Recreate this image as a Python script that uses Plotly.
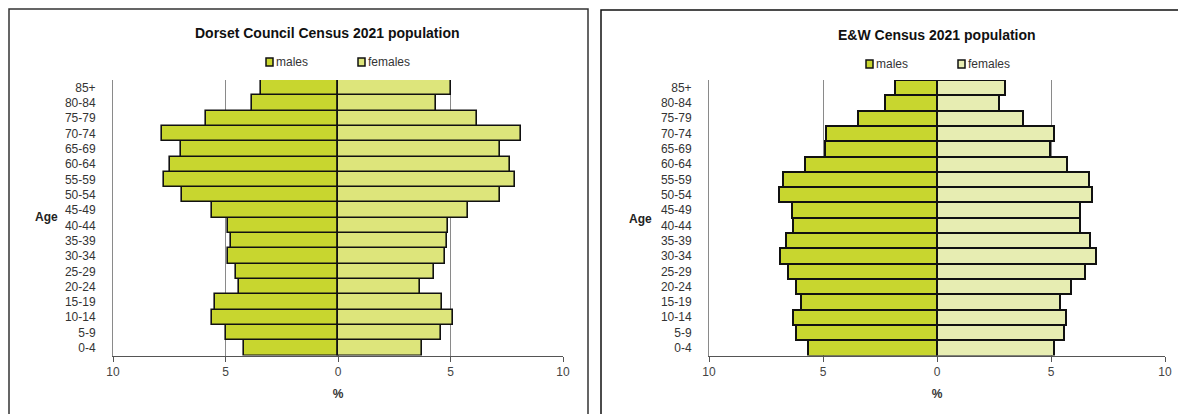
import plotly.graph_objects as go

W, H = 1186, 414
OFF = 8  # default page margin of the html body

ages = ["0-4", "5-9", "10-14", "15-19", "20-24", "25-29", "30-34", "35-39", "40-44",
        "45-49", "50-54", "55-59", "60-64", "65-69", "70-74", "75-79", "80-84", "85+"]

dorset_males = [4.18, 5.00, 5.61, 5.46, 4.40, 4.54, 4.88, 4.76, 4.91,
                5.58, 6.95, 7.75, 7.46, 6.96, 7.82, 5.85, 3.84, 3.43]
dorset_females = [3.74, 4.56, 5.10, 4.61, 3.63, 4.27, 4.74, 4.85, 4.91,
                  5.78, 7.18, 7.88, 7.65, 7.18, 8.14, 6.16, 4.37, 5.02]

ew_males = [5.66, 6.20, 6.31, 5.97, 6.18, 6.52, 6.89, 6.61, 6.31,
            6.38, 6.95, 6.77, 5.80, 4.92, 4.87, 3.48, 2.28, 1.85]
ew_females = [5.11, 5.59, 5.67, 5.38, 5.87, 6.48, 6.98, 6.69, 6.26,
              6.25, 6.80, 6.67, 5.72, 4.97, 5.11, 3.79, 2.74, 2.97]

x_tickvals = [-10, -5, 0, 5, 10]
x_ticktext = ["10", "5", "0", "5", "10"]

titles = ["Dorset Council Census 2021 population", "E&W Census 2021 population"]
series_names = ["males", "females"]

MALE_COLOR = "#C8D62F"
FEMALE_COLORS = ["#DDE57B", "#E7EDB2"]
FONT = "Liberation Sans, Arial, sans-serif"


def px(x):
    return (x - OFF) / W


def py(y):
    return 1 - (y - OFF) / H


fig = go.Figure()

panels = [
    dict(males=dorset_males, females=dorset_females, xa="x", ya="y",
         xdom=[px(113), px(563)], ydom=[py(355.5), py(80)], fem=FEMALE_COLORS[0], lw=1.6),
    dict(males=ew_males, females=ew_females, xa="x2", ya="y2",
         xdom=[px(709), px(1165)], ydom=[py(355.5), py(80)], fem=FEMALE_COLORS[1], lw=2.0),
]

for i, p in enumerate(panels):
    fig.add_trace(go.Bar(
        y=ages, x=[-v for v in p["males"]], orientation="h", name=series_names[0],
        marker=dict(color=MALE_COLOR, line=dict(color="#111", width=p["lw"])),
        xaxis=p["xa"], yaxis=p["ya"], showlegend=False,
        customdata=p["males"], hovertemplate="%{y}: %{customdata}%<extra>males</extra>"))
    fig.add_trace(go.Bar(
        y=ages, x=p["females"], orientation="h", name=series_names[1],
        marker=dict(color=p["fem"], line=dict(color="#111", width=p["lw"])),
        xaxis=p["xa"], yaxis=p["ya"], showlegend=False,
        hovertemplate="%{y}: %{x}%<extra>females</extra>"))

axis_common_x = dict(range=[-10, 10], tickvals=x_tickvals, ticktext=x_ticktext,
                     showgrid=True, gridcolor="#8a8a8a", gridwidth=1, zeroline=False,
                     showline=True, linecolor="#555", linewidth=1,
                     ticks="outside", ticklen=5, tickcolor="#555",
                     tickfont=dict(family=FONT, size=12, color="#444"),
                     title=dict(text="<b>%</b>", font=dict(family=FONT, size=12, color="#333"),
                                standoff=11),
                     automargin=False, fixedrange=True)
axis_common_y = dict(showline=True, linecolor="#8a8a8a", linewidth=1, showgrid=False,
                     ticks="", ticklabelstandoff=14, automargin=False,
                     tickfont=dict(family=FONT, size=12, color="#333"), fixedrange=True)

layout = dict(
    width=W, height=H, margin=dict(l=0, r=0, t=0, b=0, autoexpand=False),
    paper_bgcolor="white", plot_bgcolor="white",
    barmode="relative", bargap=0.0, showlegend=False,
    font=dict(family=FONT, color="#222"),
)
for i, p in enumerate(panels):
    sx = "" if i == 0 else "2"
    layout["xaxis" + sx] = dict(axis_common_x, domain=p["xdom"],
                                anchor="y" + sx)
    layout["yaxis" + sx] = dict(axis_common_y, domain=p["ydom"],
                                anchor="x" + sx)
fig.update_layout(**layout)

# panel borders
fig.add_shape(type="rect", xref="paper", yref="paper",
              x0=px(9), x1=px(588), y0=py(430), y1=py(9),
              line=dict(color="#333", width=1.5), fillcolor="rgba(0,0,0,0)", layer="below")
fig.add_shape(type="rect", xref="paper", yref="paper",
              x0=px(601), x1=px(1200), y0=py(430), y1=py(10),
              line=dict(color="#111", width=1.5), fillcolor="rgba(0,0,0,0)", layer="below")

# titles, Age labels, legends
title_pos = [(327, 33), (937, 35)]
age_pos = [(46, 217), (640, 219)]
legend_pos = [((266, 62), (358, 62)), ((866, 64), (958, 64))]
for i in range(2):
    tx, ty = title_pos[i]
    fig.add_annotation(x=px(tx), y=py(ty), xref="paper", yref="paper", showarrow=False,
                       xanchor="center", yanchor="middle",
                       text="<b>" + titles[i] + "</b>",
                       font=dict(family=FONT, size=14, color="#111"))
    ax, ay = age_pos[i]
    fig.add_annotation(x=px(ax), y=py(ay), xref="paper", yref="paper", showarrow=False,
                       xanchor="center", yanchor="middle",
                       text="<b>Age</b>", font=dict(family=FONT, size=12, color="#222"))
    cols = [MALE_COLOR, panels[i]["fem"]]
    for j in range(2):
        lx, ly = legend_pos[i][j]
        fig.add_shape(type="rect", xref="paper", yref="paper",
                      x0=px(lx), x1=px(lx + 7), y0=py(ly + 4), y1=py(ly - 4),
                      line=dict(color="#111", width=1.5), fillcolor=cols[j])
        fig.add_annotation(x=px(lx + 8), y=py(ly), xref="paper", yref="paper",
                           showarrow=False, xanchor="left", yanchor="middle",
                           text=series_names[j],
                           font=dict(family=FONT, size=12, color="#333"))

fig.write_html("out.html")
